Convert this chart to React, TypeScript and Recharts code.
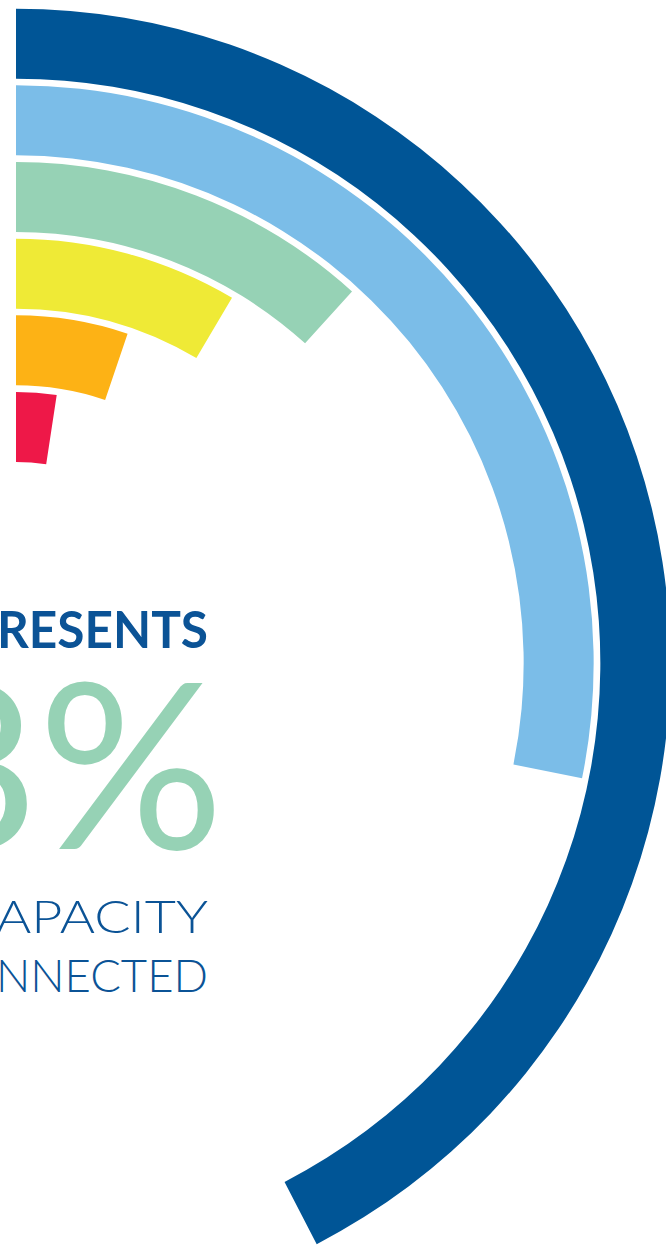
import { RadialBarChart, RadialBar, PolarAngleAxis } from "recharts";

// ─── Data (share of a full turn, innermost ring first) ───────────────────────

const rings = ["red", "orange", "yellow", "green", "lightBlue", "darkBlue"];
const shares = [2.4, 5.2, 8.5, 11.7, 28.2, 42.4];
const ringColors = ["#ee1848", "#fdb215", "#efea36", "#96d2b5", "#7bbde8", "#005596"];

const headline = "RESENTS";
const bigValue = "8%";
const captionLines = ["APACITY", "NNECTED"];

const data = rings.map((name, i) => ({ name, value: shares[i], fill: ringColors[i] }));

const BLUE = "#0b5396";
const GREEN = "#96d2b5";

export default function App() {
  return (
    <div style={{ position: "absolute", left: 0, top: 0, width: 666, height: 1252, background: "#fff" }}>
      <RadialBarChart
        width={666}
        height={1252}
        data={data}
        cx={16}
        cy={663}
        innerRadius={198}
        outerRadius={658}
        startAngle={90}
        endAngle={-270}
        barSize={70}
        margin={{ top: 0, right: 0, bottom: 0, left: 0 }}
      >
        <PolarAngleAxis type="number" domain={[0, 100]} tick={false} axisLine={false} />
        <RadialBar dataKey="value" isAnimationActive={false} />
      </RadialBarChart>

      <svg
        width={666}
        height={1252}
        style={{ position: "absolute", left: 0, top: 0, pointerEvents: "none" }}
      >
        <text
          x={-3}
          y={648}
          fontFamily="Lato, sans-serif"
          fontWeight={700}
          fontSize={52}
          fill={BLUE}
          textLength={211}
          lengthAdjust="spacingAndGlyphs"
        >
          {headline}
        </text>
        <text
          x={224}
          y={849}
          textAnchor="end"
          fontFamily="Lato, sans-serif"
          fontWeight={400}
          fontSize={232}
          fill={GREEN}
        >
          {bigValue}
        </text>
        {captionLines.map((line, i) => (
          <text
            key={line}
            x={-4}
            y={933 + i * 59}
            fontFamily="Lato, sans-serif"
            fontWeight={300}
            fontSize={46}
            fill={BLUE}
            textLength={212}
            lengthAdjust="spacingAndGlyphs"
          >
            {line}
          </text>
        ))}
      </svg>
    </div>
  );
}
